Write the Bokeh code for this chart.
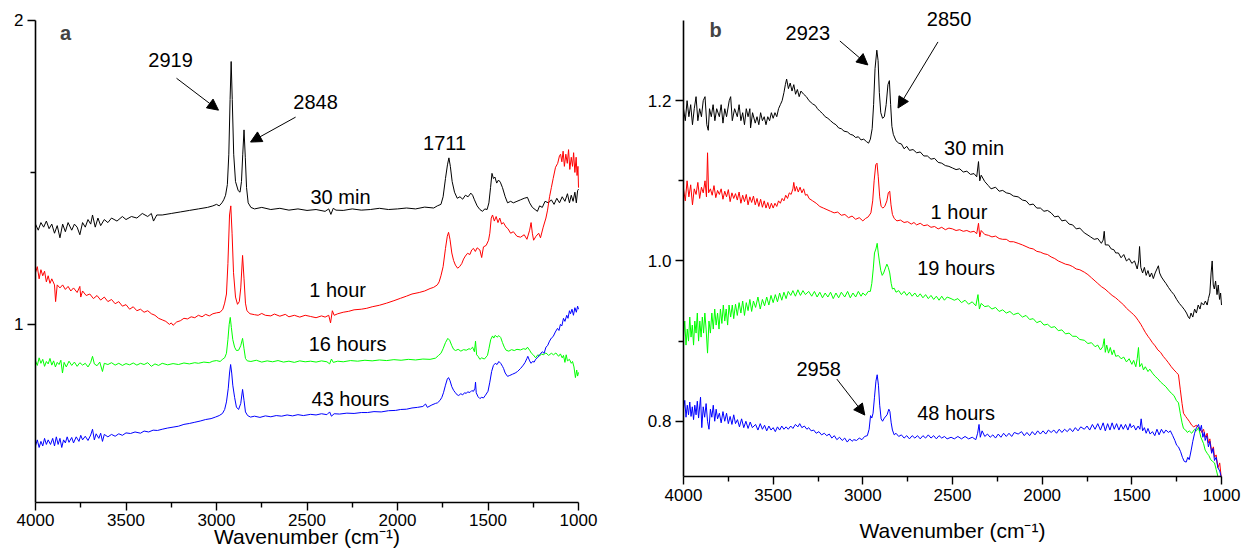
from bokeh.plotting import figure
from bokeh.models import Range1d, FixedTicker, Label, Arrow, NormalHead, NumeralTickFormatter
from bokeh.layouts import row
from bokeh.embed import file_html
from bokeh.resources import INLINE

# ---------------- data: panel a (wavenumber, absorbance) ----------------
A_30MIN = [(4000,1.33),(3985,1.31),(3970,1.335),(3955,1.32),(3940,1.34),(3925,1.315),(3910,1.33),(3895,1.30),(3880,1.325),(3865,1.285),(3850,1.33),(3835,1.305),(3820,1.335),(3800,1.31),(3785,1.33),(3770,1.32),(3755,1.295),(3740,1.335),(3725,1.32),(3710,1.345),(3695,1.33),(3685,1.36),(3670,1.32),(3655,1.35),(3640,1.325),(3620,1.345),(3600,1.335),(3580,1.35),(3550,1.34),(3520,1.355),(3500,1.345),(3470,1.355),(3440,1.35),(3410,1.365),(3380,1.355),(3360,1.365),(3348,1.34),(3330,1.36),(3300,1.36),(3250,1.365),(3200,1.37),(3150,1.375),(3100,1.38),(3050,1.385),(3020,1.39),(3000,1.395),(2985,1.39),(2970,1.40),(2960,1.41),(2950,1.425),(2940,1.46),(2932,1.56),(2925,1.74),(2919,1.865),(2913,1.74),(2905,1.56),(2895,1.47),(2880,1.44),(2870,1.435),(2862,1.47),(2855,1.56),(2848,1.64),(2841,1.55),(2834,1.45),(2825,1.40),(2810,1.385),(2790,1.38),(2750,1.385),(2700,1.378),(2650,1.382),(2600,1.376),(2550,1.38),(2500,1.375),(2450,1.378),(2400,1.372),(2380,1.38),(2368,1.362),(2355,1.382),(2340,1.376),(2300,1.375),(2250,1.38),(2200,1.376),(2150,1.378),(2100,1.382),(2050,1.378),(2000,1.38),(1950,1.383),(1900,1.38),(1850,1.386),(1800,1.383),(1780,1.39),(1760,1.395),(1748,1.42),(1735,1.48),(1724,1.525),(1716,1.548),(1708,1.52),(1698,1.47),(1685,1.435),(1670,1.415),(1655,1.42),(1640,1.412),(1625,1.425),(1610,1.42),(1595,1.432),(1585,1.425),(1575,1.41),(1560,1.39),(1545,1.378),(1530,1.372),(1518,1.38),(1505,1.378),(1495,1.40),(1486,1.45),(1478,1.497),(1470,1.48),(1462,1.485),(1452,1.465),(1442,1.475),(1432,1.468),(1420,1.45),(1405,1.42),(1392,1.40),(1375,1.405),(1360,1.40),(1340,1.405),(1320,1.41),(1300,1.415),(1282,1.418),(1270,1.40),(1255,1.385),(1240,1.378),(1227,1.372),(1215,1.39),(1200,1.385),(1185,1.405),(1166,1.40),(1150,1.41),(1135,1.395),(1120,1.415),(1105,1.40),(1090,1.42),(1075,1.405),(1061,1.43),(1050,1.40),(1040,1.425),(1030,1.405),(1020,1.435),(1012,1.40),(1005,1.44),(1000,1.445)]

A_1HOUR = [(4000,1.17),(3990,1.19),(3980,1.15),(3970,1.18),(3960,1.16),(3950,1.175),(3940,1.14),(3930,1.16),(3920,1.135),(3910,1.15),(3895,1.13),(3889,1.075),(3880,1.13),(3865,1.12),(3850,1.13),(3835,1.115),(3820,1.125),(3805,1.11),(3790,1.12),(3770,1.105),(3755,1.125),(3750,1.09),(3740,1.11),(3720,1.095),(3700,1.10),(3680,1.085),(3660,1.095),(3640,1.08),(3620,1.09),(3600,1.075),(3580,1.082),(3560,1.068),(3540,1.075),(3520,1.06),(3500,1.065),(3480,1.05),(3460,1.058),(3440,1.045),(3420,1.05),(3400,1.04),(3380,1.045),(3360,1.035),(3340,1.03),(3320,1.02),(3300,1.015),(3280,1.01),(3260,1.0),(3250,1.005),(3240,0.997),(3220,1.008),(3200,1.012),(3180,1.02),(3160,1.018),(3140,1.025),(3120,1.022),(3100,1.03),(3080,1.025),(3060,1.033),(3040,1.028),(3020,1.035),(3000,1.038),(2980,1.04),(2965,1.05),(2955,1.07),(2945,1.10),(2937,1.20),(2928,1.36),(2921,1.39),(2914,1.30),(2906,1.17),(2895,1.09),(2884,1.066),(2874,1.075),(2866,1.12),(2856,1.227),(2848,1.15),(2840,1.07),(2832,1.045),(2815,1.035),(2790,1.032),(2770,1.03),(2750,1.036),(2730,1.03),(2700,1.028),(2680,1.034),(2650,1.027),(2620,1.033),(2600,1.025),(2570,1.03),(2540,1.024),(2510,1.03),(2480,1.026),(2450,1.022),(2420,1.028),(2400,1.024),(2380,1.03),(2370,1.005),(2360,1.045),(2350,1.03),(2330,1.035),(2300,1.04),(2270,1.043),(2240,1.048),(2200,1.05),(2170,1.053),(2140,1.058),(2100,1.063),(2060,1.07),(2020,1.078),(1983,1.086),(1950,1.093),(1920,1.10),(1880,1.105),(1850,1.11),(1820,1.118),(1800,1.122),(1780,1.13),(1770,1.14),(1760,1.16),(1748,1.19),(1735,1.25),(1725,1.29),(1718,1.303),(1710,1.28),(1700,1.235),(1690,1.21),(1680,1.195),(1668,1.185),(1657,1.19),(1645,1.20),(1635,1.215),(1625,1.225),(1613,1.234),(1600,1.23),(1590,1.245),(1580,1.25),(1570,1.24),(1560,1.252),(1545,1.245),(1535,1.22),(1525,1.255),(1510,1.26),(1497,1.277),(1490,1.30),(1482,1.35),(1475,1.36),(1465,1.34),(1455,1.355),(1445,1.335),(1435,1.35),(1425,1.33),(1415,1.335),(1400,1.32),(1390,1.315),(1375,1.30),(1360,1.305),(1340,1.29),(1320,1.287),(1300,1.295),(1285,1.28),(1270,1.31),(1262,1.335),(1255,1.30),(1248,1.277),(1235,1.29),(1220,1.30),(1210,1.285),(1195,1.32),(1180,1.35),(1171,1.376),(1160,1.42),(1150,1.45),(1140,1.48),(1127,1.517),(1115,1.53),(1105,1.555),(1099,1.56),(1092,1.535),(1085,1.57),(1078,1.52),(1070,1.56),(1062,1.53),(1055,1.575),(1048,1.51),(1040,1.55),(1033,1.52),(1027,1.565),(1020,1.50),(1013,1.55),(1008,1.49),(1003,1.52),(1000,1.45)]

A_16HOURS = [(4000,0.88),(3990,0.865),(3980,0.89),(3970,0.872),(3960,0.885),(3950,0.862),(3940,0.878),(3930,0.87),(3920,0.888),(3910,0.866),(3900,0.88),(3890,0.86),(3880,0.875),(3870,0.868),(3860,0.882),(3851,0.84),(3842,0.875),(3830,0.86),(3815,0.879),(3800,0.865),(3785,0.876),(3770,0.862),(3755,0.874),(3740,0.866),(3725,0.872),(3710,0.86),(3695,0.875),(3685,0.895),(3675,0.87),(3660,0.864),(3645,0.876),(3630,0.845),(3620,0.872),(3600,0.868),(3580,0.874),(3560,0.866),(3540,0.872),(3520,0.865),(3500,0.871),(3480,0.867),(3460,0.873),(3440,0.866),(3420,0.872),(3400,0.868),(3380,0.874),(3360,0.862),(3340,0.87),(3320,0.865),(3300,0.872),(3270,0.867),(3240,0.871),(3210,0.868),(3180,0.873),(3150,0.87),(3120,0.874),(3100,0.872),(3070,0.876),(3040,0.874),(3020,0.879),(3000,0.881),(2980,0.878),(2965,0.886),(2955,0.89),(2945,0.905),(2937,0.95),(2930,1.0),(2924,1.023),(2918,0.99),(2910,0.95),(2900,0.925),(2890,0.914),(2878,0.915),(2866,0.93),(2856,0.954),(2848,0.92),(2840,0.888),(2830,0.88),(2810,0.878),(2780,0.882),(2750,0.876),(2720,0.88),(2690,0.877),(2660,0.881),(2630,0.876),(2600,0.879),(2570,0.875),(2540,0.88),(2510,0.877),(2480,0.879),(2450,0.876),(2420,0.88),(2390,0.877),(2375,0.87),(2365,0.886),(2355,0.875),(2330,0.879),(2300,0.877),(2260,0.881),(2220,0.879),(2180,0.882),(2140,0.88),(2100,0.883),(2060,0.881),(2020,0.884),(1980,0.882),(1940,0.885),(1900,0.883),(1860,0.886),(1820,0.885),(1790,0.889),(1773,0.898),(1760,0.905),(1748,0.92),(1735,0.94),(1722,0.954),(1712,0.948),(1700,0.93),(1690,0.918),(1679,0.914),(1665,0.918),(1650,0.912),(1635,0.917),(1620,0.915),(1605,0.92),(1597,0.918),(1585,0.925),(1575,0.91),(1569,0.945),(1563,0.9),(1555,0.895),(1545,0.885),(1535,0.89),(1520,0.886),(1510,0.893),(1503,0.898),(1495,0.92),(1485,0.95),(1475,0.962),(1468,0.955),(1460,0.964),(1450,0.958),(1440,0.963),(1430,0.957),(1420,0.94),(1410,0.925),(1400,0.915),(1385,0.912),(1370,0.917),(1355,0.914),(1340,0.918),(1320,0.916),(1305,0.92),(1290,0.918),(1282,0.925),(1270,0.915),(1260,0.905),(1250,0.9),(1237,0.89),(1225,0.9),(1215,0.896),(1205,0.903),(1195,0.9),(1180,0.906),(1165,0.898),(1150,0.905),(1138,0.9),(1125,0.906),(1110,0.895),(1100,0.903),(1090,0.89),(1083,0.898),(1075,0.875),(1068,0.9),(1061,0.88),(1050,0.885),(1040,0.872),(1033,0.878),(1025,0.86),(1017,0.825),(1010,0.85),(1005,0.83),(1000,0.842)]

A_43HOURS = [(4000,0.60),(3990,0.62),(3980,0.595),(3970,0.615),(3960,0.60),(3950,0.625),(3940,0.605),(3930,0.62),(3917,0.605),(3905,0.625),(3895,0.60),(3885,0.63),(3875,0.605),(3865,0.625),(3855,0.595),(3845,0.62),(3835,0.61),(3825,0.63),(3815,0.612),(3800,0.628),(3790,0.61),(3775,0.63),(3760,0.615),(3750,0.635),(3740,0.62),(3725,0.632),(3710,0.618),(3695,0.636),(3685,0.655),(3675,0.62),(3665,0.64),(3650,0.625),(3640,0.642),(3630,0.615),(3620,0.638),(3600,0.63),(3580,0.638),(3560,0.632),(3540,0.64),(3520,0.635),(3500,0.643),(3475,0.641),(3450,0.646),(3420,0.642),(3400,0.649),(3375,0.646),(3350,0.652),(3326,0.651),(3300,0.655),(3270,0.659),(3240,0.662),(3210,0.665),(3180,0.671),(3150,0.674),(3120,0.678),(3090,0.682),(3060,0.687),(3030,0.69),(3006,0.695),(2985,0.70),(2967,0.707),(2955,0.72),(2945,0.745),(2935,0.79),(2928,0.84),(2922,0.868),(2916,0.84),(2910,0.80),(2900,0.76),(2890,0.728),(2878,0.72),(2866,0.74),(2856,0.786),(2848,0.75),(2840,0.712),(2828,0.70),(2812,0.695),(2790,0.698),(2760,0.694),(2730,0.699),(2700,0.696),(2670,0.70),(2640,0.698),(2610,0.702),(2580,0.699),(2550,0.703),(2520,0.70),(2480,0.704),(2450,0.702),(2420,0.706),(2390,0.703),(2375,0.712),(2365,0.698),(2350,0.706),(2320,0.705),(2280,0.708),(2240,0.707),(2200,0.71),(2166,0.71),(2130,0.713),(2090,0.712),(2050,0.716),(2010,0.717),(1983,0.72),(1950,0.721),(1920,0.725),(1890,0.727),(1860,0.73),(1845,0.738),(1835,0.727),(1810,0.735),(1790,0.74),(1779,0.742),(1765,0.75),(1755,0.76),(1746,0.775),(1735,0.80),(1725,0.82),(1718,0.825),(1710,0.815),(1700,0.795),(1690,0.783),(1680,0.775),(1670,0.768),(1662,0.766),(1650,0.772),(1640,0.768),(1630,0.775),(1620,0.773),(1613,0.778),(1600,0.776),(1590,0.782),(1580,0.78),(1572,0.79),(1569,0.81),(1565,0.775),(1555,0.762),(1545,0.756),(1535,0.76),(1525,0.758),(1514,0.767),(1500,0.78),(1490,0.81),(1480,0.845),(1470,0.865),(1460,0.872),(1450,0.868),(1440,0.878),(1430,0.872),(1420,0.862),(1414,0.855),(1405,0.84),(1392,0.829),(1380,0.832),(1365,0.836),(1350,0.84),(1337,0.845),(1320,0.855),(1305,0.866),(1295,0.875),(1285,0.888),(1280,0.895),(1270,0.88),(1262,0.872),(1254,0.878),(1245,0.876),(1237,0.885),(1227,0.89),(1215,0.9),(1200,0.91),(1190,0.905),(1180,0.925),(1171,0.93),(1160,0.945),(1150,0.955),(1140,0.96),(1128,0.975),(1116,0.987),(1108,0.98),(1100,1.0),(1092,0.995),(1083,1.02),(1075,1.01),(1065,1.03),(1058,1.02),(1050,1.045),(1044,1.035),(1036,1.05),(1028,1.03),(1020,1.055),(1012,1.04),(1005,1.06),(1000,1.05)]

# ---------------- data: panel b ----------------
B_30MIN = [(4000,1.19),(3990,1.175),(3980,1.20),(3970,1.18),(3960,1.195),(3950,1.17),(3940,1.19),(3930,1.205),(3920,1.175),(3910,1.19),(3900,1.18),(3890,1.20),(3880,1.205),(3870,1.17),(3862,1.163),(3855,1.19),(3845,1.18),(3835,1.195),(3825,1.175),(3815,1.19),(3800,1.18),(3790,1.195),(3780,1.172),(3770,1.19),(3760,1.18),(3745,1.20),(3737,1.205),(3728,1.175),(3715,1.19),(3700,1.18),(3690,1.195),(3680,1.175),(3670,1.185),(3660,1.17),(3650,1.19),(3640,1.18),(3630,1.19),(3626,1.166),(3615,1.185),(3600,1.172),(3590,1.18),(3580,1.17),(3570,1.185),(3560,1.175),(3550,1.18),(3540,1.17),(3530,1.18),(3520,1.175),(3510,1.185),(3500,1.178),(3490,1.185),(3480,1.18),(3470,1.19),(3460,1.195),(3450,1.20),(3440,1.21),(3432,1.22),(3425,1.227),(3415,1.215),(3405,1.222),(3395,1.212),(3385,1.22),(3375,1.208),(3365,1.214),(3355,1.205),(3345,1.212),(3330,1.208),(3315,1.205),(3300,1.20),(3280,1.196),(3265,1.194),(3253,1.19),(3240,1.187),(3225,1.184),(3210,1.18),(3195,1.178),(3180,1.175),(3165,1.172),(3150,1.17),(3135,1.166),(3120,1.165),(3105,1.162),(3086,1.161),(3070,1.158),(3055,1.157),(3040,1.154),(3025,1.155),(3010,1.151),(2995,1.152),(2980,1.149),(2968,1.147),(2958,1.152),(2948,1.165),(2940,1.195),(2932,1.24),(2922,1.263),(2915,1.25),(2908,1.21),(2900,1.185),(2890,1.178),(2880,1.18),(2870,1.195),(2860,1.22),(2852,1.225),(2845,1.195),(2838,1.168),(2830,1.158),(2815,1.15),(2800,1.147),(2785,1.146),(2770,1.14),(2755,1.143),(2740,1.138),(2720,1.139),(2700,1.135),(2680,1.136),(2660,1.131),(2640,1.131),(2620,1.127),(2600,1.128),(2580,1.123),(2560,1.122),(2540,1.119),(2520,1.118),(2500,1.116),(2480,1.114),(2460,1.115),(2440,1.111),(2420,1.112),(2400,1.108),(2380,1.109),(2365,1.105),(2355,1.124),(2348,1.10),(2340,1.107),(2320,1.099),(2300,1.094),(2285,1.09),(2260,1.092),(2240,1.087),(2220,1.088),(2200,1.085),(2180,1.084),(2160,1.081),(2134,1.08),(2110,1.076),(2090,1.075),(2070,1.07),(2050,1.071),(2030,1.066),(2010,1.066),(1990,1.062),(1970,1.063),(1950,1.06),(1930,1.055),(1910,1.056),(1890,1.05),(1870,1.051),(1850,1.046),(1830,1.045),(1810,1.04),(1790,1.041),(1765,1.035),(1750,1.033),(1730,1.03),(1710,1.027),(1690,1.028),(1670,1.022),(1660,1.026),(1654,1.037),(1648,1.02),(1630,1.02),(1615,1.015),(1600,1.014),(1590,1.01),(1575,1.01),(1560,1.004),(1545,1.008),(1530,1.0),(1515,1.003),(1500,0.997),(1485,1.0),(1470,0.99),(1462,1.0),(1457,1.018),(1450,0.992),(1440,0.985),(1430,0.992),(1420,0.982),(1410,0.988),(1400,0.98),(1390,0.985),(1380,0.978),(1370,0.985),(1360,0.99),(1352,0.994),(1345,0.985),(1335,0.98),(1320,0.975),(1310,0.972),(1296,0.967),(1280,0.962),(1265,0.958),(1250,0.952),(1235,0.947),(1220,0.943),(1206,0.939),(1195,0.935),(1185,0.93),(1178,0.928),(1170,0.935),(1160,0.93),(1150,0.94),(1140,0.935),(1130,0.945),(1120,0.94),(1112,0.948),(1100,0.945),(1090,0.95),(1080,0.945),(1073,0.953),(1065,0.96),(1058,0.985),(1052,1.0),(1046,0.97),(1040,0.965),(1033,0.975),(1025,0.958),(1018,0.97),(1011,0.952),(1005,0.96),(1000,0.945)]

B_1HOUR = [(4000,1.09),(3990,1.075),(3980,1.10),(3970,1.08),(3960,1.095),(3950,1.07),(3940,1.09),(3930,1.083),(3920,1.098),(3910,1.078),(3900,1.092),(3890,1.085),(3880,1.10),(3872,1.08),(3866,1.135),(3860,1.085),(3850,1.09),(3840,1.082),(3830,1.094),(3820,1.079),(3810,1.088),(3800,1.083),(3790,1.09),(3780,1.077),(3770,1.087),(3760,1.08),(3750,1.089),(3740,1.074),(3730,1.085),(3720,1.078),(3710,1.084),(3700,1.076),(3690,1.086),(3680,1.072),(3670,1.082),(3660,1.074),(3650,1.083),(3640,1.07),(3630,1.08),(3620,1.073),(3610,1.081),(3600,1.07),(3590,1.078),(3580,1.068),(3570,1.077),(3560,1.067),(3550,1.075),(3540,1.066),(3530,1.073),(3520,1.065),(3510,1.072),(3500,1.066),(3490,1.072),(3480,1.068),(3470,1.075),(3460,1.072),(3450,1.078),(3440,1.075),(3430,1.082),(3420,1.078),(3410,1.085),(3400,1.083),(3390,1.09),(3385,1.098),(3378,1.087),(3370,1.093),(3360,1.086),(3350,1.092),(3340,1.085),(3330,1.09),(3320,1.082),(3310,1.083),(3300,1.078),(3280,1.075),(3260,1.072),(3240,1.068),(3220,1.066),(3200,1.064),(3180,1.062),(3160,1.06),(3140,1.061),(3120,1.057),(3100,1.058),(3080,1.054),(3060,1.056),(3040,1.052),(3020,1.054),(3000,1.05),(2985,1.053),(2970,1.055),(2955,1.06),(2945,1.075),(2937,1.10),(2928,1.12),(2921,1.122),(2914,1.105),(2906,1.08),(2898,1.068),(2888,1.066),(2878,1.068),(2866,1.075),(2858,1.085),(2850,1.087),(2843,1.07),(2835,1.058),(2825,1.053),(2810,1.05),(2790,1.051),(2770,1.048),(2750,1.049),(2730,1.046),(2715,1.048),(2700,1.045),(2680,1.047),(2660,1.044),(2640,1.045),(2620,1.042),(2600,1.043),(2580,1.04),(2560,1.042),(2540,1.039),(2520,1.041),(2500,1.04),(2480,1.038),(2460,1.039),(2440,1.037),(2420,1.038),(2400,1.036),(2380,1.037),(2365,1.034),(2355,1.047),(2348,1.03),(2340,1.038),(2320,1.033),(2300,1.032),(2280,1.03),(2260,1.031),(2240,1.028),(2220,1.027),(2200,1.027),(2180,1.024),(2160,1.024),(2134,1.022),(2110,1.02),(2090,1.018),(2070,1.016),(2050,1.015),(2030,1.012),(2010,1.011),(1990,1.009),(1970,1.008),(1950,1.005),(1930,1.003),(1910,1.0),(1890,0.998),(1870,0.996),(1850,0.995),(1830,0.993),(1810,0.99),(1790,0.989),(1765,0.986),(1745,0.983),(1725,0.979),(1705,0.975),(1690,0.972),(1670,0.968),(1650,0.965),(1630,0.961),(1610,0.957),(1590,0.954),(1575,0.951),(1560,0.948),(1545,0.945),(1530,0.941),(1515,0.938),(1500,0.935),(1490,0.933),(1478,0.93),(1465,0.926),(1450,0.921),(1440,0.917),(1425,0.911),(1410,0.906),(1400,0.903),(1385,0.898),(1370,0.894),(1355,0.889),(1340,0.886),(1325,0.881),(1310,0.877),(1296,0.873),(1280,0.868),(1265,0.864),(1252,0.861),(1240,0.858),(1230,0.84),(1220,0.822),(1212,0.81),(1200,0.806),(1190,0.803),(1180,0.80),(1166,0.795),(1155,0.793),(1140,0.795),(1130,0.792),(1120,0.791),(1110,0.786),(1100,0.79),(1090,0.78),(1080,0.785),(1073,0.773),(1065,0.778),(1055,0.762),(1045,0.768),(1039,0.755),(1030,0.758),(1020,0.742),(1010,0.748),(1002,0.731)]

B_19HOURS = [(4000,0.905),(3993,0.925),(3986,0.895),(3979,0.915),(3972,0.90),(3965,0.93),(3958,0.905),(3951,0.92),(3944,0.895),(3937,0.925),(3930,0.91),(3923,0.935),(3916,0.90),(3909,0.925),(3902,0.905),(3895,0.93),(3888,0.91),(3881,0.935),(3874,0.915),(3866,0.885),(3858,0.925),(3850,0.91),(3842,0.935),(3834,0.915),(3826,0.94),(3818,0.92),(3810,0.935),(3802,0.915),(3794,0.94),(3786,0.922),(3778,0.945),(3770,0.925),(3762,0.94),(3754,0.92),(3746,0.945),(3737,0.93),(3728,0.945),(3720,0.928),(3710,0.946),(3700,0.932),(3690,0.948),(3680,0.935),(3670,0.95),(3660,0.932),(3650,0.948),(3640,0.938),(3630,0.952),(3620,0.937),(3610,0.95),(3598,0.942),(3585,0.955),(3572,0.94),(3560,0.952),(3548,0.944),(3536,0.955),(3524,0.945),(3512,0.957),(3500,0.948),(3488,0.958),(3476,0.949),(3464,0.96),(3452,0.951),(3440,0.961),(3428,0.953),(3416,0.962),(3402,0.957),(3390,0.963),(3376,0.956),(3362,0.964),(3348,0.957),(3334,0.963),(3320,0.958),(3302,0.962),(3285,0.956),(3270,0.962),(3255,0.955),(3240,0.961),(3225,0.954),(3210,0.96),(3195,0.955),(3180,0.961),(3165,0.953),(3150,0.96),(3135,0.954),(3120,0.961),(3101,0.955),(3085,0.962),(3070,0.954),(3055,0.96),(3040,0.955),(3025,0.962),(3010,0.956),(3000,0.96),(2985,0.957),(2970,0.962),(2958,0.962),(2950,0.972),(2942,0.99),(2935,1.01),(2927,1.015),(2920,1.022),(2914,1.01),(2908,1.0),(2900,0.988),(2892,0.982),(2884,0.985),(2876,0.99),(2866,0.996),(2858,0.992),(2850,0.985),(2842,0.972),(2835,0.965),(2825,0.966),(2815,0.961),(2800,0.963),(2785,0.958),(2770,0.962),(2755,0.957),(2740,0.961),(2725,0.956),(2710,0.96),(2695,0.955),(2680,0.959),(2665,0.954),(2650,0.958),(2635,0.953),(2620,0.957),(2605,0.952),(2590,0.956),(2575,0.951),(2560,0.956),(2545,0.951),(2530,0.955),(2508,0.953),(2490,0.951),(2470,0.953),(2450,0.948),(2430,0.951),(2410,0.946),(2390,0.949),(2370,0.944),(2358,0.958),(2350,0.94),(2340,0.947),(2320,0.943),(2300,0.944),(2280,0.94),(2260,0.942),(2240,0.937),(2220,0.939),(2200,0.935),(2180,0.937),(2160,0.933),(2134,0.935),(2110,0.93),(2090,0.932),(2070,0.927),(2050,0.928),(2030,0.923),(2010,0.925),(1990,0.92),(1970,0.921),(1950,0.917),(1930,0.918),(1910,0.913),(1890,0.914),(1870,0.909),(1850,0.91),(1830,0.906),(1810,0.906),(1790,0.902),(1765,0.901),(1745,0.897),(1725,0.898),(1705,0.893),(1690,0.895),(1675,0.889),(1662,0.893),(1654,0.903),(1648,0.886),(1640,0.895),(1630,0.885),(1620,0.892),(1610,0.883),(1600,0.889),(1590,0.881),(1575,0.882),(1560,0.878),(1545,0.88),(1530,0.874),(1515,0.878),(1500,0.871),(1490,0.876),(1478,0.868),(1470,0.878),(1463,0.892),(1456,0.868),(1445,0.872),(1435,0.864),(1425,0.868),(1410,0.862),(1400,0.865),(1385,0.86),(1370,0.856),(1355,0.853),(1340,0.849),(1325,0.846),(1310,0.843),(1296,0.839),(1280,0.835),(1265,0.832),(1252,0.826),(1240,0.823),(1230,0.81),(1220,0.798),(1212,0.791),(1200,0.789),(1190,0.786),(1180,0.788),(1166,0.785),(1150,0.79),(1140,0.788),(1128,0.792),(1115,0.78),(1100,0.772),(1091,0.764),(1080,0.76),(1070,0.757),(1060,0.752),(1050,0.75),(1039,0.748),(1030,0.74),(1020,0.731)]

B_48HOURS = [(4000,0.815),(3993,0.826),(3986,0.805),(3979,0.82),(3972,0.808),(3965,0.824),(3958,0.806),(3951,0.818),(3944,0.802),(3937,0.82),(3930,0.808),(3923,0.825),(3916,0.804),(3905,0.83),(3898,0.792),(3890,0.818),(3882,0.805),(3874,0.822),(3866,0.80),(3858,0.79),(3850,0.815),(3842,0.805),(3834,0.82),(3826,0.80),(3818,0.815),(3810,0.803),(3800,0.81),(3790,0.798),(3780,0.812),(3770,0.80),(3760,0.81),(3750,0.797),(3740,0.806),(3730,0.796),(3720,0.808),(3710,0.797),(3699,0.802),(3688,0.793),(3676,0.803),(3664,0.792),(3652,0.80),(3640,0.791),(3628,0.799),(3616,0.792),(3598,0.796),(3585,0.789),(3572,0.797),(3560,0.79),(3548,0.795),(3536,0.788),(3524,0.794),(3512,0.789),(3500,0.792),(3488,0.787),(3476,0.793),(3464,0.789),(3452,0.794),(3440,0.79),(3428,0.793),(3416,0.79),(3402,0.794),(3390,0.791),(3376,0.796),(3362,0.793),(3352,0.797),(3340,0.792),(3326,0.794),(3312,0.79),(3302,0.792),(3288,0.788),(3274,0.789),(3260,0.785),(3245,0.787),(3230,0.783),(3215,0.785),(3201,0.782),(3187,0.784),(3173,0.779),(3159,0.782),(3145,0.777),(3130,0.78),(3115,0.776),(3101,0.779),(3087,0.774),(3073,0.778),(3060,0.775),(3050,0.777),(3035,0.776),(3020,0.779),(3005,0.777),(2990,0.781),(2975,0.782),(2965,0.79),(2957,0.807),(2950,0.804),(2943,0.81),(2935,0.83),(2927,0.85),(2920,0.858),(2913,0.845),(2906,0.82),(2898,0.803),(2890,0.80),(2880,0.804),(2865,0.808),(2855,0.815),(2849,0.812),(2842,0.798),(2835,0.789),(2825,0.783),(2815,0.785),(2800,0.781),(2785,0.783),(2770,0.779),(2755,0.782),(2740,0.778),(2725,0.782),(2710,0.779),(2695,0.782),(2680,0.778),(2665,0.782),(2650,0.779),(2635,0.783),(2620,0.779),(2605,0.782),(2590,0.778),(2575,0.782),(2560,0.779),(2545,0.781),(2530,0.778),(2508,0.78),(2490,0.778),(2470,0.781),(2450,0.778),(2430,0.781),(2410,0.778),(2390,0.78),(2370,0.777),(2360,0.785),(2352,0.796),(2345,0.78),(2335,0.788),(2320,0.781),(2305,0.784),(2290,0.78),(2275,0.783),(2260,0.779),(2245,0.784),(2230,0.78),(2215,0.785),(2200,0.781),(2185,0.785),(2170,0.781),(2155,0.786),(2134,0.784),(2115,0.787),(2100,0.782),(2085,0.786),(2070,0.782),(2055,0.787),(2040,0.783),(2025,0.788),(2010,0.784),(1995,0.788),(1980,0.784),(1965,0.789),(1950,0.786),(1935,0.789),(1920,0.785),(1905,0.79),(1890,0.786),(1875,0.79),(1860,0.787),(1845,0.791),(1830,0.787),(1815,0.792),(1800,0.788),(1785,0.793),(1765,0.79),(1750,0.794),(1735,0.789),(1720,0.796),(1705,0.79),(1690,0.797),(1675,0.789),(1660,0.798),(1648,0.788),(1635,0.797),(1622,0.789),(1610,0.798),(1598,0.79),(1585,0.797),(1572,0.789),(1560,0.796),(1548,0.79),(1535,0.796),(1522,0.789),(1510,0.797),(1503,0.792),(1490,0.795),(1478,0.789),(1465,0.794),(1455,0.79),(1448,0.803),(1440,0.788),(1430,0.792),(1420,0.785),(1410,0.791),(1398,0.784),(1385,0.787),(1372,0.782),(1360,0.79),(1348,0.783),(1335,0.79),(1322,0.785),(1310,0.789),(1296,0.786),(1285,0.788),(1272,0.782),(1260,0.776),(1250,0.77),(1240,0.768),(1228,0.762),(1218,0.755),(1208,0.75),(1197,0.749),(1188,0.755),(1180,0.752),(1169,0.764),(1160,0.775),(1150,0.785),(1140,0.792),(1128,0.796),(1120,0.788),(1112,0.795),(1104,0.78),(1096,0.786),(1091,0.776),(1082,0.782),(1073,0.768),(1065,0.775),(1055,0.76),(1047,0.766),(1039,0.751),(1030,0.755),(1020,0.742),(1010,0.738),(1002,0.731)]

X_TICKS = [1000, 1500, 2000, 2500, 3000, 3500, 4000]
X_MINOR = [1250, 1750, 2250, 2750, 3250, 3750]
X_SPAN = (1000, 4000)            # drawn extent of the x axes
A_YTICKS = [1, 2]
A_YMINOR = [1.5]
B_YTICKS = [0.8, 1.0, 1.2]
B_YMINOR = [0.9, 1.1]
A_AXIS_SPAN = (0.414, 2.0)       # drawn extent of the y axis of panel a
B_AXIS_SPAN = (0.731, 1.30)      # drawn extent of the y axis of panel b
A_VIEW_X = (4193.4, 657.5)       # visible x window of panel a (reversed)
B_VIEW_X = (4239.8, 866.2)       # visible x window of panel b (reversed)
A_VIEW_Y = (0.2626, 2.0658)      # visible y window of panel a
B_VIEW_Y = (0.6412, 1.325)       # visible y window of panel b
X_TITLE = "Wavenumber (cm\u207b\u00b9)"

# annotation texts (text, wavenumber, absorbance)
A_LABELS = [("2919", 3254, 1.87), ("2848", 2453, 1.731), ("1711", 1740, 1.596),
            ("30 min", 2315, 1.418), ("1 hour", 2331, 1.112),
            ("16 hours", 2276, 0.937), ("43 hours", 2260, 0.753)]
A_ARROWS = [(3221, 1.81, 2989, 1.705), (2563, 1.682, 2812, 1.600)]
B_LABELS = [("2923", 3307, 1.2845), ("2850", 2519, 1.3025), ("30 min", 2380, 1.141),
            ("1 hour", 2464, 1.061), ("19 hours", 2480, 0.991),
            ("48 hours", 2480, 0.810), ("2958", 3246, 0.865)]
B_ARROWS = [(3128, 1.2745, 2972, 1.2446), (2581, 1.2733, 2804, 1.1908),
            (3145, 0.8526, 2989, 0.8077)]
A_PANEL = ("a", 3834, 1.959)
B_PANEL = ("b", 3821, 1.288)
A_TITLE_POS = (2500, 0.3035)
B_TITLE_POS = (2500, 0.6636)

COLORS = ["black", "#ff0000", "#00ff00", "#0000ff"]
FONT = "Liberation Sans"


def make_panel(series, view_x, view_y, span, yticks, yminor, yfmt, labels, arrows, panel,
               title_pos, width, height):
    p = figure(width=width, height=height, output_backend="svg", toolbar_location=None,
               x_range=Range1d(view_x[0], view_x[1]), y_range=Range1d(view_y[0], view_y[1]),
               min_border_left=0, min_border_right=0, min_border_top=0,
               min_border_bottom=0)
    p.outline_line_color = None
    p.xgrid.visible = False
    p.ygrid.visible = False
    for data, c in zip(series, COLORS):
        xs = [d[0] for d in data]
        ys = [d[1] for d in data]
        p.line(xs, ys, line_color=c, line_width=1)

    for ax in (p.xaxis[0], p.yaxis[0]):
        ax.axis_line_width = 1.6
        ax.axis_line_color = "black"
        ax.major_tick_line_width = 1.4
        ax.minor_tick_line_width = 1.4
        ax.major_tick_in = 0
        ax.major_tick_out = 8
        ax.minor_tick_in = 0
        ax.minor_tick_out = 5
        ax.major_label_text_font = FONT
        ax.major_label_text_font_size = "17px"
        ax.major_label_text_color = "black"
        ax.major_label_standoff = 4

    p.xaxis[0].ticker = FixedTicker(ticks=X_TICKS, minor_ticks=X_MINOR)
    p.xaxis[0].fixed_location = span[0]
    p.xaxis[0].bounds = X_SPAN
    p.yaxis[0].ticker = FixedTicker(ticks=yticks, minor_ticks=yminor)
    p.yaxis[0].formatter = NumeralTickFormatter(format=yfmt)
    p.yaxis[0].fixed_location = X_SPAN[1]
    p.yaxis[0].bounds = span

    for t, x, y in labels:
        p.add_layout(Label(x=x, y=y, text=t, text_font=FONT, text_font_size="20px",
                           text_align="center", text_baseline="middle", text_color="black"))
    for x0, y0, x1, y1 in arrows:
        p.add_layout(Arrow(end=NormalHead(size=11, fill_color="black", line_color="black",
                                          line_width=1),
                           x_start=x0, y_start=y0, x_end=x1, y_end=y1,
                           line_color="black", line_width=1))
    t, x, y = panel
    p.add_layout(Label(x=x, y=y, text=t, text_font=FONT, text_font_size="20px",
                       text_font_style="bold", text_align="center", text_baseline="middle"))
    # x-axis title
    p.add_layout(Label(x=title_pos[0], y=title_pos[1], text=X_TITLE, text_font=FONT,
                       text_font_size="21px", text_align="center", text_baseline="middle",
                       text_color="black"))
    return p


pa = make_panel([A_30MIN, A_1HOUR, A_16HOURS, A_43HOURS], A_VIEW_X, A_VIEW_Y, A_AXIS_SPAN,
                A_YTICKS, A_YMINOR, "0", A_LABELS, A_ARROWS, A_PANEL, A_TITLE_POS, 640, 548)
pb = make_panel([B_30MIN, B_1HOUR, B_19HOURS, B_48HOURS], B_VIEW_X, B_VIEW_Y, B_AXIS_SPAN,
                B_YTICKS, B_YMINOR, "0.0", B_LABELS, B_ARROWS, B_PANEL, B_TITLE_POS, 605, 548)

layout = row(pa, pb)
open("out.html", "w").write(file_html(layout, INLINE))
